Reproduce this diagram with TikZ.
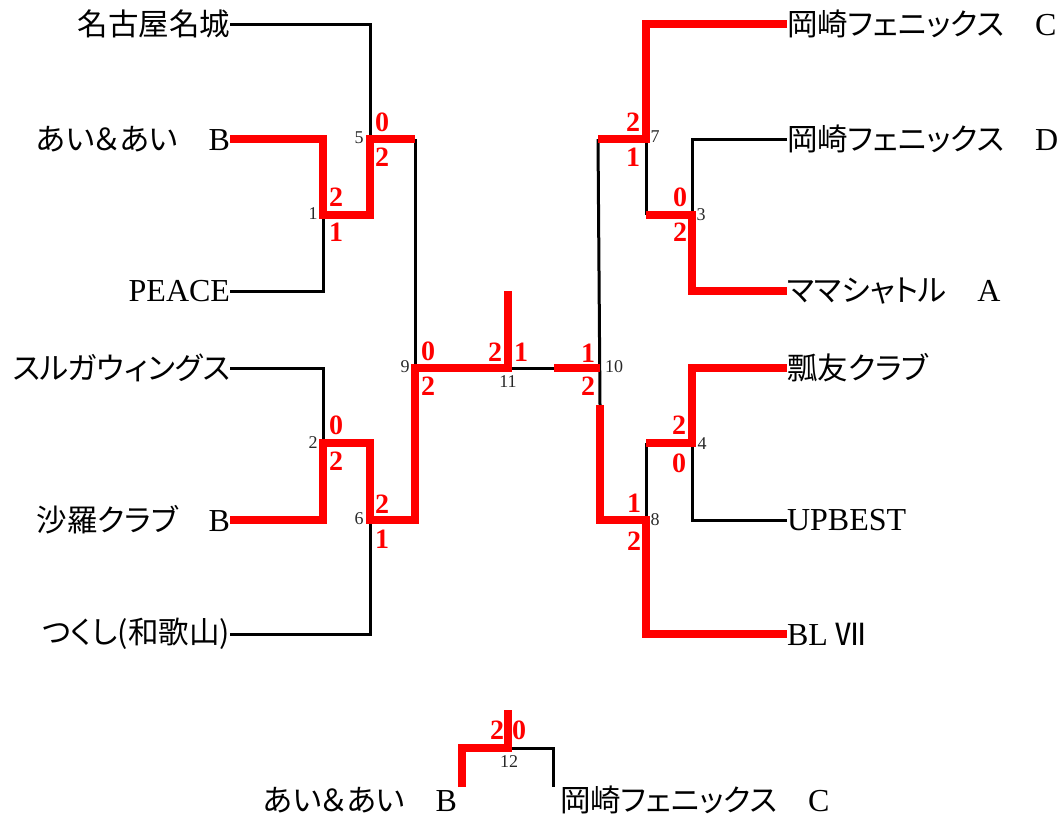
\documentclass[tikz,border=0pt]{standalone}
\usepackage{fontspec}
\setmainfont{Liberation Serif}
\newfontfamily\cjk[RawFeature=+palt]{Noto Sans CJK JP}
\newfontfamily\scf{Liberation Serif}
\newcommand\jp[1]{{\cjk\fontsize{30.5}{32}\selectfont #1}}
\definecolor{winred}{RGB}{255,0,0}
\definecolor{numgray}{RGB}{40,40,40}
\tikzset{
  lose/.style={line width=3pt, black, line join=miter},
  win/.style={line width=7.5pt, winred, line join=miter},
  teamL/.style={anchor=east, inner sep=0pt, outer sep=0pt, font=\fontsize{32}{34}\selectfont},
  teamR/.style={anchor=west, inner sep=0pt, outer sep=0pt, font=\fontsize{32}{34}\selectfont},
  score/.style={text=winred, inner sep=0pt, font=\scf\bfseries\fontsize{28}{30}\selectfont},
  mnum/.style={text=numgray, inner sep=0pt, font=\fontsize{18}{20}\selectfont},
}
\begin{document}
\begin{tikzpicture}[x=1pt,y=-1pt]
\useasboundingbox (0,0) rectangle (1062,820);
% teams left
\node[teamL] (L1) at (230,24)  {\jp{名古屋名城}};
\node[teamL] (L2) at (230,139) {\jp{あい＆あい　}B};
\node[teamL] (L3) at (230,291) {PEACE};
\node[teamL] (L4) at (230,368) {\jp{スルガウィングス}};
\node[teamL] (L5) at (230,520) {\jp{沙羅クラブ　}B};
\node[teamL] (L6) at (230,634) {\jp{つくし(和歌山)}};
% teams right
\node[teamR] (R1) at (787,24)  {\jp{岡崎フェニックス　}C};
\node[teamR] (R2) at (787,139) {\jp{岡崎フェニックス　}D};
\node[teamR] (R3) at (787,291) {\jp{ママシャトル　}A};
\node[teamR] (R4) at (787,368) {\jp{瓢友クラブ}};
\node[teamR] (R5) at (787,520) {UPBEST};
\node[teamR] (R6) at (787,634) {BL \jp{Ⅶ}};
% third place teams
\node[teamL] (B1) at (457,800) {\jp{あい＆あい　}B};
\node[teamR] (B2) at (560,800) {\jp{岡崎フェニックス　}C};
% junctions
\coordinate (m1) at (323,215);
\coordinate (m2) at (323,443);
\coordinate (m5) at (370,139);
\coordinate (m6) at (370,520);
\coordinate (o5) at (415,139);
\coordinate (m9) at (415,368);
\coordinate (m11) at (508,368);
\coordinate (champ) at (508,291);
\coordinate (r10) at (554,368);
\coordinate (m10) at (600,368);
\coordinate (o7) at (598,139);
\coordinate (v10) at (600,405);
\coordinate (m7) at (646,139);
\coordinate (o3) at (646,215);
\coordinate (o4) at (646,443);
\coordinate (m8) at (646,520);
\coordinate (m3) at (692,215);
\coordinate (m4) at (692,443);
\coordinate (m12) at (508,748);
\coordinate (b12) at (508,710);
\coordinate (p12L) at (462,787);
\coordinate (p12R) at (553,787);
% losing lines
\draw[lose] (L1.east) -| (m5);
\draw[lose] (L3.east) -| (m1);
\draw[lose] (o5) -- (m9);
\draw[lose] (L4.east) -| (m2);
\draw[lose] (L6.east) -| (m6);
\draw[lose] (m11) -- (m10);
\draw[lose] (o7) -- (v10);
\draw[lose] (m7) -- (o3);
\draw[lose] (R2.west) -| (m3);
\draw[lose] (o4) -- (m8);
\draw[lose] (R5.west) -| (m4);
\draw[lose] (m12) -| (p12R);
% winning lines
\draw[win] (L2.east) -| (m1) -| (m5) -- (o5);
\draw[win] (L5.east) -| (m2) -| (m6) -| (m9) -- (m11) -- (champ);
\draw[win] (r10) -- (m10);
\draw[win] (v10) |- (m8) |- (R6.west);
\draw[win] (o7) -- (m7) |- (R1.west);
\draw[win] (o3) -- (m3) |- (R3.west);
\draw[win] (o4) -- (m4) |- (R4.west);
\draw[win] (p12L) |- (m12) -- (b12);
% scores
\node[score] (s1a) at (336,197) {2};  \node[score] (s1b) at (336,232) {1};
\node[score] (s5a) at (382,122) {0};  \node[score] (s5b) at (382,157) {2};
\node[score] (s2a) at (336,425) {0};  \node[score] (s2b) at (336,461) {2};
\node[score] (s6a) at (382,504) {2};  \node[score] (s6b) at (382,539) {1};
\node[score] (s9a) at (428,351) {0};  \node[score] (s9b) at (428,386) {2};
\node[score] (s11a) at (495,352) {2}; \node[score] (s11b) at (521,352) {1};
\node[score] (s10a) at (588,353) {1}; \node[score] (s10b) at (588,386) {2};
\node[score] (s7a) at (633,122) {2};  \node[score] (s7b) at (633,157) {1};
\node[score] (s3a) at (680,197) {0};  \node[score] (s3b) at (680,232) {2};
\node[score] (s4a) at (679,425) {2};  \node[score] (s4b) at (679,463) {0};
\node[score] (s8a) at (634,503) {1};  \node[score] (s8b) at (634,541) {2};
\node[score] (s12a) at (497,730) {2}; \node[score] (s12b) at (519,730) {0};
% match numbers
\node[mnum] (n1) at (313,214) {1};
\node[mnum] (n5) at (359,138) {5};
\node[mnum] (n2) at (313,443) {2};
\node[mnum] (n6) at (359,519) {6};
\node[mnum] (n9) at (405,367) {9};
\node[mnum] (n11) at (508,382) {11};
\node[mnum] (n10) at (614,367) {10};
\node[mnum] (n7) at (655,137) {7};
\node[mnum] (n3) at (701,215) {3};
\node[mnum] (n4) at (702,444) {4};
\node[mnum] (n8) at (655,520) {8};
\node[mnum] (n12) at (509,762) {12};
\end{tikzpicture}
\end{document}
